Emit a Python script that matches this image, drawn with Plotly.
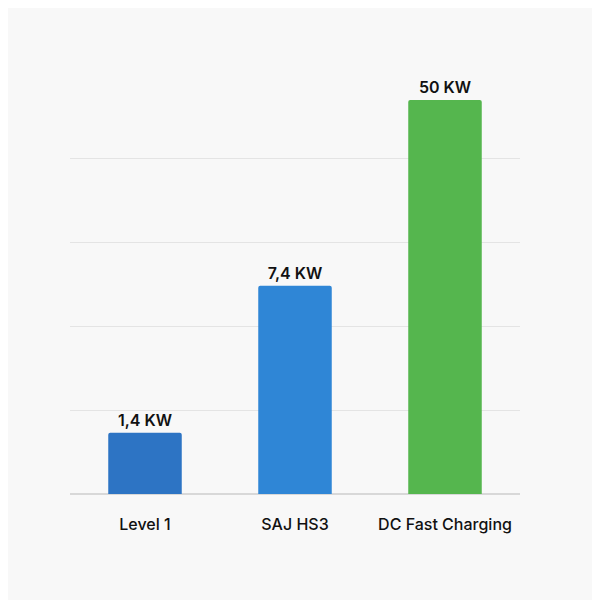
import plotly.graph_objects as go

categories = ["Level 1", "SAJ HS3", "DC Fast Charging"]
bar_heights = [0.73, 2.48, 4.69]   # visual heights in grid units (not to scale)
labels = ["1,4 KW", "7,4 KW", "50 KW"]
colors = ["#2d74c4", "#2f86d6", "#55b64e"]

fig = go.Figure(go.Bar(
    x=categories, y=bar_heights, text=labels, textposition="outside",
    textfont=dict(size=16, color="#111", family="Inter", weight=600),
    marker=dict(color=colors, line=dict(width=0), cornerradius=2),
    width=0.49, cliponaxis=False,
))
fig.update_layout(
    width=600, height=600, paper_bgcolor="#f8f8f8", plot_bgcolor="#f8f8f8",
    margin=dict(l=62, r=88, t=66, b=114), showlegend=False,
    font=dict(family="Inter", color="#111"),
)
fig.update_yaxes(range=[0, 5], dtick=1, showticklabels=False, gridcolor="#e4e4e4",
                 zeroline=True, zerolinecolor="#d8d8d8")
fig.update_xaxes(tickfont=dict(size=16, color="#111", weight=500), ticks="outside",
                 ticklen=16, tickcolor="rgba(0,0,0,0)", showline=False)
fig.write_html("out.html")
